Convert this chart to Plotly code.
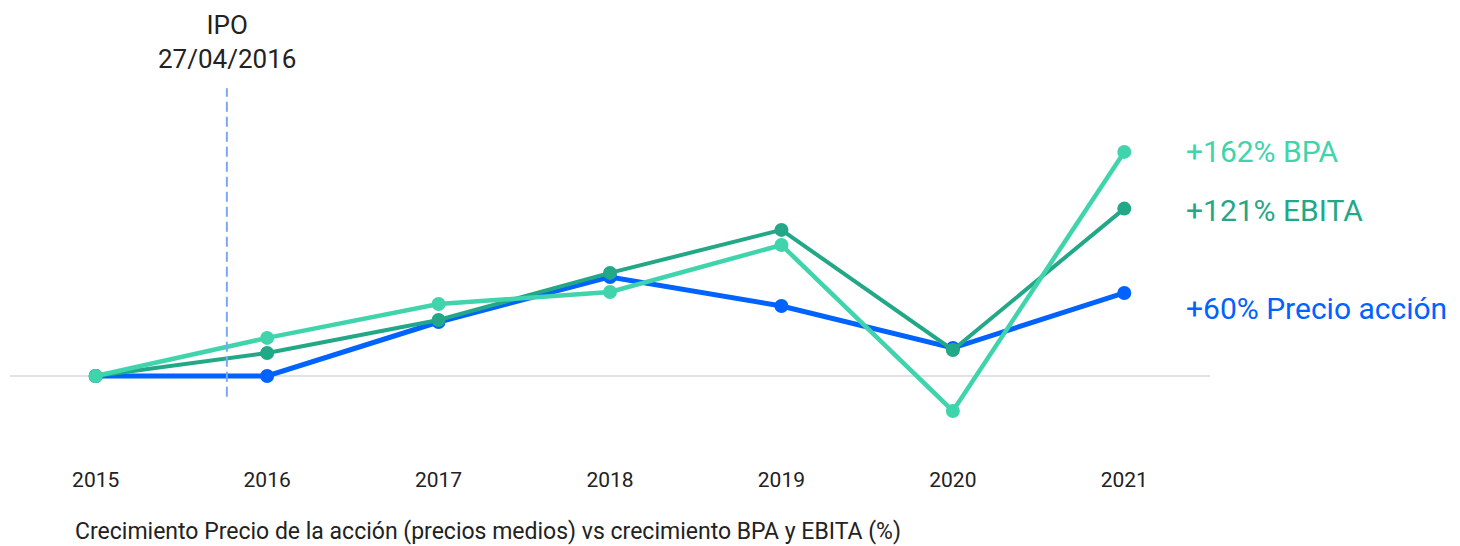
import plotly.graph_objects as go

years = ["2015", "2016", "2017", "2018", "2019", "2020", "2021"]
bpa = [0, 27.5, 52, 60.7, 94.7, -25.3, 162]
ebita = [0, 16.6, 40.5, 74.5, 105.6, 18.8, 121]
precio = [0, 0, 39, 71.6, 50.6, 20.2, 60]
ipo_pos = 0.765  # position between 2015 and 2016 categories
ipo_label = "IPO<br>27/04/2016"
caption = "Crecimiento Precio de la acción (precios medios) vs crecimiento BPA y EBITA (%)"
end_labels = ["+162% BPA", "+121% EBITA", "+60% Precio acción"]

C_BLUE = "#0062ff"
C_LIGHT = "#40d4ad"
C_DARK = "#22a887"
FONT = "Roboto"

fig = go.Figure()
fig.add_trace(go.Scatter(x=years, y=precio, mode="lines+markers",
                         line=dict(color=C_BLUE, width=5),
                         marker=dict(size=14, color=C_BLUE), hoverinfo="skip"))
fig.add_trace(go.Scatter(x=years, y=ebita, mode="lines+markers",
                         line=dict(color=C_DARK, width=4),
                         marker=dict(size=14, color=C_DARK), hoverinfo="skip"))
fig.add_trace(go.Scatter(x=years, y=bpa, mode="lines+markers",
                         line=dict(color=C_LIGHT, width=4.5),
                         marker=dict(size=14, color=C_LIGHT), hoverinfo="skip"))

# zero line
fig.add_shape(type="line", xref="paper", yref="y", x0=0, x1=1, y0=0, y1=0,
              line=dict(color="#d9d9d9", width=1.5), layer="below")
# IPO dashed line
fig.add_shape(type="line", xref="x", yref="y", x0=ipo_pos, x1=ipo_pos, y0=-15, y1=208,
              line=dict(color="#7aa8f7", width=2, dash="10px,5px"), layer="above")

fig.add_annotation(x=ipo_pos, y=208, xref="x", yref="y", text=ipo_label,
                   showarrow=False, yanchor="bottom", yshift=12,
                   font=dict(family=FONT, size=26, color="#222222"), align="center")

label_vals = [bpa[-1], ebita[-1], precio[-1]]
label_cols = [C_LIGHT, C_DARK, C_BLUE]
label_shift = [0, -2, -16]
for t, v, c, s in zip(end_labels, label_vals, label_cols, label_shift):
    fig.add_annotation(x=6, y=v, xref="x", yref="y", text=t, showarrow=False,
                       xanchor="left", xshift=60, yshift=s,
                       font=dict(family=FONT, size=30, color=c))

fig.add_annotation(x=0, y=0, xref="paper", yref="paper", text=caption,
                   showarrow=False, xanchor="left", yanchor="middle",
                   xshift=63, yshift=-66,
                   font=dict(family=FONT, size=23, color="#222222"))

fig.update_layout(
    width=1452, height=538,
    margin=dict(l=2, r=250, t=72, b=81),
    paper_bgcolor="white", plot_bgcolor="white",
    showlegend=False,
    xaxis=dict(type="category", range=[-0.5, 6.5], showgrid=False, zeroline=False,
               showline=False, ticks="", tickfont=dict(family=FONT, size=21, color="#222222")),
    yaxis=dict(range=[-64.4, 214], showgrid=False, zeroline=False, showticklabels=False,
               showline=False),
)

fig.write_html("out.html")
